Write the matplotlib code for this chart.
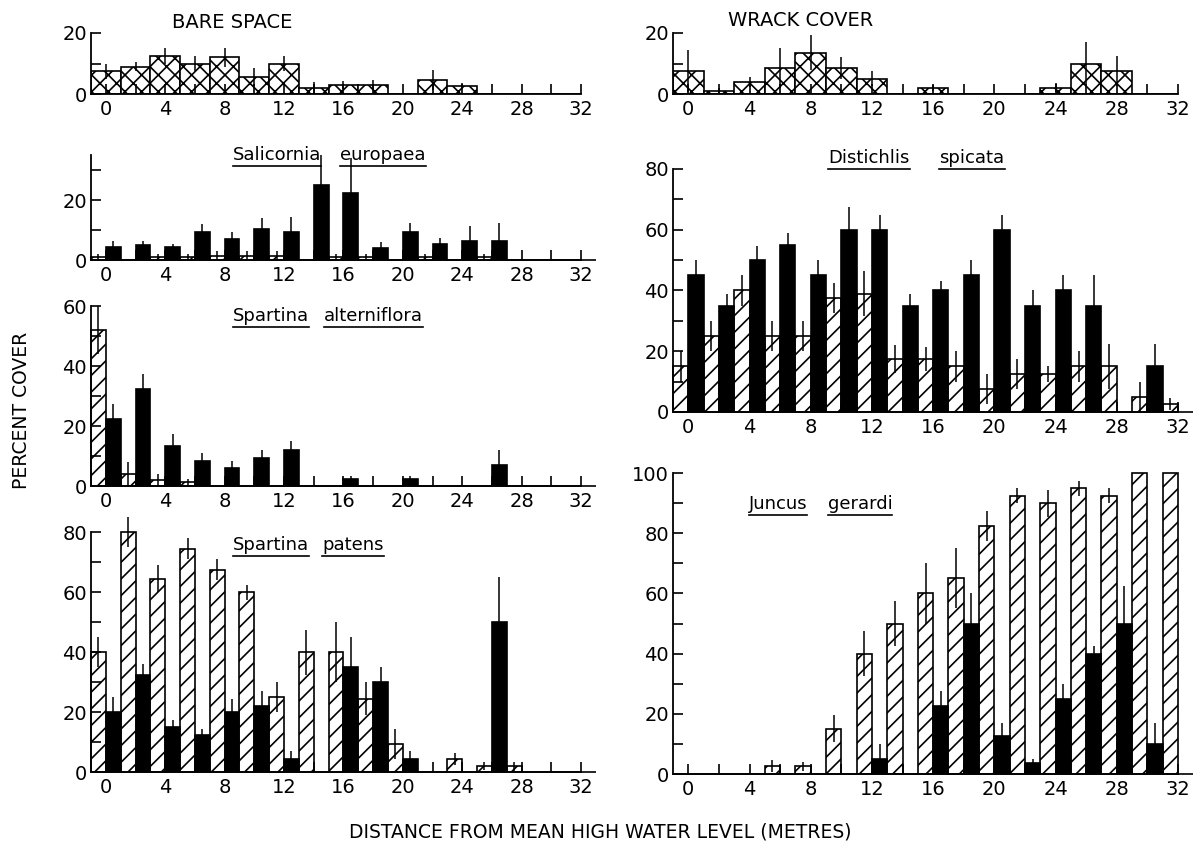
import matplotlib
matplotlib.use('Agg')
import matplotlib.pyplot as plt
from matplotlib.lines import Line2D

plt.rcParams['font.family'] = ['DejaVu Sans']
plt.rcParams['hatch.linewidth'] = 1.2

# sampling distances (m) from mean high water
dist = list(range(0, 34, 2))
x_labels = [str(d) if d % 4 == 0 else '' for d in dist]

# bare space / wrack cover (cross-hatched, one bar per distance)
bare_cover = [7.5, 9, 12.5, 10, 12, 5.5, 10, 2, 3, 3, 0, 4.5, 2.5, 0, 0, 0, 0]
bare_err = [2.5, 1.5, 2.5, 2.5, 3, 3, 2.5, 2, 1.2, 1.5, 0, 3.3, 1, 0, 0, 0, 0]
wrack_cover = [7.5, 1, 4, 8.5, 13.5, 8.5, 5, 0, 2, 0, 0, 0, 2, 10, 7.5, 0, 0]
wrack_err = [7, 1, 1.7, 6.5, 5.7, 3.6, 2.5, 0, 1, 0, 0, 0, 1.5, 7, 5, 0, 0]

# species: hatched and solid bars
sal_hatch = [1, 0, 1, 1, 1.5, 1.5, 1.5, 0, 1, 1, 0, 1, 0, 1, 0, 0, 0]
sal_hatch_err = [1, 0, 1, 1, 1.5, 1.5, 1.5, 0, 1, 1, 0, 1, 0, 1, 0, 0, 0]
sal_black = [4.5, 5, 4.5, 9.5, 7, 10.5, 9.5, 25, 22.5, 4, 9.5, 5.5, 6.5, 6.5, 0, 0, 0]
sal_black_err = [2, 1.5, 1, 2.5, 2.5, 3.5, 5, 10, 11.5, 2, 3, 2, 5, 6, 0, 0, 0]

alt_hatch = [52, 4, 2, 1.5, 0, 0, 0, 0, 0, 0, 0, 0, 0, 0, 0, 0, 0]
alt_hatch_err = [8, 4, 2, 1, 0, 0, 0, 0, 0, 0, 0, 0, 0, 0, 0, 0, 0]
alt_black = [22.5, 32.5, 13.5, 8.5, 6, 9.5, 12, 0, 2.5, 0, 2.5, 0, 0, 7, 0, 0, 0]
alt_black_err = [5, 5, 4, 2.5, 2.5, 2.5, 3, 0, 1, 0, 1, 0, 0, 5, 0, 0, 0]

pat_hatch = [40, 80, 64.5, 74.5, 67.5, 60, 25, 40, 40, 24.5, 9.5, 0, 4.5, 2, 2, 0, 0]
pat_hatch_err = [5, 5, 4.5, 3.5, 3.5, 2.5, 5, 7.5, 10, 5.5, 5, 0, 2, 1.2, 1.5, 0, 0]
pat_black = [20, 32.5, 15, 12.5, 20, 22, 4.5, 0, 35, 30, 4.5, 0, 0, 50, 0, 0, 0]
pat_black_err = [5, 3.5, 2.5, 2, 4.5, 5, 2.5, 0, 10, 5, 2.5, 0, 0, 15, 0, 0, 0]

dis_hatch = [15, 25, 40, 25, 25, 37.5, 39, 17.5, 17.5, 15, 7.5, 12.5, 12.5, 15, 15, 5, 2.5]
dis_hatch_err = [5, 5, 5, 5, 5, 5, 7.5, 4.5, 4, 5, 5, 5, 2.5, 5, 7.5, 5, 2]
dis_black = [45, 35, 50, 55, 45, 60, 60, 35, 40, 45, 60, 35, 40, 35, 0, 15, 0]
dis_black_err = [5, 4, 4.5, 4, 5, 7.5, 5, 4, 3, 5, 5, 5, 5, 10, 0, 7.5, 0]

jun_hatch = [0, 0, 0, 2.5, 2.5, 15, 40, 50, 60, 65, 82.5, 92.5, 90, 95, 92.5, 100, 100]
jun_hatch_err = [0, 0, 0, 2, 1.5, 4.5, 7.5, 7.5, 10, 10, 5, 2.5, 4.5, 2.5, 2.5, 0, 0]
jun_black = [0, 0, 0, 0, 0, 0, 5, 0, 22.5, 50, 12.5, 3.5, 25, 40, 50, 10, 0]
jun_black_err = [0, 0, 0, 0, 0, 0, 5, 0, 5, 10, 4.5, 1.5, 5, 2.5, 12.5, 7, 0]

W, H = 1193, 850
fig = plt.figure(figsize=(W / 100, H / 100), dpi=100)


def rect(x0, x1, ytop, ybot):
    return [x0 / W, 1 - ybot / H, (x1 - x0) / W, (ybot - ytop) / H]


def style_axes(ax, ymax, ystep, label_step):
    ax.set_xlim(-1, 32)
    ax.set_ylim(0, ymax)
    for s in ('top', 'right'):
        ax.spines[s].set_visible(False)
    for s in ('left', 'bottom'):
        ax.spines[s].set_linewidth(1.3)
    ax.set_xticks(dist)
    ax.set_xticklabels(x_labels)
    yt = list(range(0, ymax + 1, ystep))
    ax.set_yticks(yt)
    ax.set_yticklabels([str(v) if v % label_step == 0 else '' for v in yt])
    ax.tick_params(direction='in', length=7, width=1.2, labelsize=14, pad=3)
    ax.tick_params(axis='x', pad=4)
    ax.set_facecolor('none')


def cover_panel(pos, vals, errs, ymax=20):
    ax = fig.add_axes(pos)
    ax.bar(dist, vals, width=2, facecolor='white', edgecolor='black',
           hatch='xx', linewidth=1.2)
    ax.errorbar(dist, vals, yerr=errs, fmt='none', ecolor='black',
                elinewidth=1.1, capsize=0, clip_on=False)
    style_axes(ax, ymax, 10, 20)
    return ax


def species_panel(pos, ymax, hv, he, bv, be, ystep=10):
    ax = fig.add_axes(pos)
    xh = [d - 0.5 for d in dist]
    xb = [d + 0.5 for d in dist]
    ax.bar(xh, hv, width=1, facecolor='white', edgecolor='black',
           hatch='//', linewidth=1.2, clip_on=False)
    ax.bar(xb, bv, width=1, facecolor='black', edgecolor='black',
           linewidth=1.2, clip_on=False)
    ax.errorbar(xh, hv, yerr=he, fmt='none', ecolor='black',
                elinewidth=1.1, capsize=0, clip_on=False)
    ax.errorbar(xb, bv, yerr=be, fmt='none', ecolor='black',
                elinewidth=1.1, capsize=0, clip_on=False)
    style_axes(ax, ymax, ystep, 20)
    return ax


LX0, LX1 = 91, 581
RX0, RX1 = 673, 1178

cover_panel(rect(LX0, LX1, 33, 94), bare_cover, bare_err)
cover_panel(rect(RX0, RX1, 33, 94), wrack_cover, wrack_err)
species_panel(rect(LX0, LX1, 155, 260), 35, sal_hatch, sal_hatch_err,
              sal_black, sal_black_err)
species_panel(rect(LX0, LX1, 306, 486), 60, alt_hatch, alt_hatch_err,
              alt_black, alt_black_err)
species_panel(rect(LX0, LX1, 532, 772), 80, pat_hatch, pat_hatch_err,
              pat_black, pat_black_err)
species_panel(rect(RX0, RX1, 169, 412), 80, dis_hatch, dis_hatch_err,
              dis_black, dis_black_err)
species_panel(rect(RX0, RX1, 473, 774), 100, jun_hatch, jun_hatch_err,
              jun_black, jun_black_err)

# titles
fig.text(232 / W, 1 - 22 / H, 'BARE SPACE', ha='center', va='center', fontsize=14)
fig.text(801 / W, 1 - 20 / H, 'WRACK COVER', ha='center', va='center', fontsize=14)

species_words = [
    ('Salicornia', 277, 155), ('europaea', 383, 155),
    ('Spartina', 271, 316), ('alterniflora', 373, 316),
    ('Spartina', 271, 545), ('patens', 353, 545),
    ('Distichlis', 869, 158), ('spicata', 972, 158),
    ('Juncus', 778, 504), ('gerardi', 860, 504),
]
word_texts = [fig.text(x / W, 1 - y / H, w, ha='center', va='center', fontsize=13)
              for w, x, y in species_words]

fig.text(22 / W, 1 - 410 / H, 'PERCENT COVER', rotation=90, ha='center',
         va='center', fontsize=13.5)
fig.text(600 / W, 1 - 832 / H, 'DISTANCE FROM MEAN HIGH WATER LEVEL (METRES)',
         ha='center', va='center', fontsize=13.5)

# underline each species word
fig.canvas.draw()
renderer = fig.canvas.get_renderer()
for t in word_texts:
    bb = t.get_window_extent(renderer)
    yline = bb.y0 - 2
    fig.add_artist(Line2D([bb.x0 / W, bb.x1 / W], [yline / H, yline / H],
                          color='black', linewidth=1.2))

fig.savefig('out.png', dpi=100)
